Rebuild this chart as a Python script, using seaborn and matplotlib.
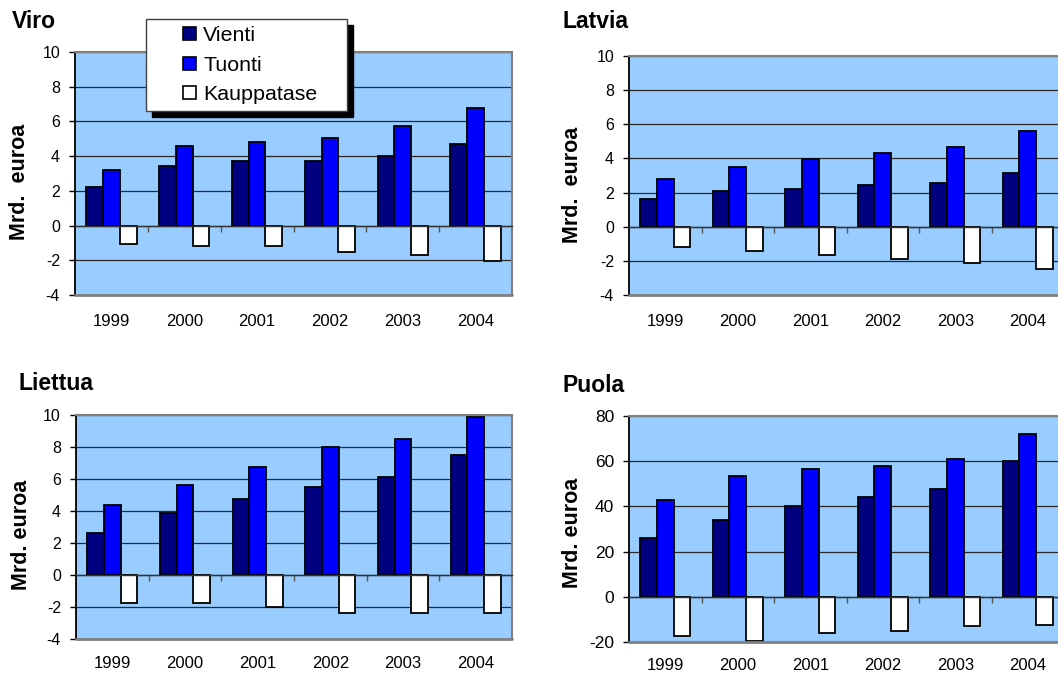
import numpy as np
import pandas as pd
import seaborn as sns
import matplotlib
matplotlib.use("Agg")
import matplotlib.pyplot as plt
from matplotlib.patches import Patch, Rectangle
from matplotlib.legend_handler import HandlerPatch
from matplotlib.lines import Line2D
import matplotlib.transforms as mtrans

sns.set_theme(style="white")
plt.rcParams["font.family"] = ["Liberation Sans", "DejaVu Sans"]
plt.rcParams["axes.unicode_minus"] = False
plt.rcParams["text.color"] = "black"
plt.rcParams["xtick.color"] = "black"
plt.rcParams["ytick.color"] = "black"
plt.rcParams["axes.labelcolor"] = "black"

years = ["1999", "2000", "2001", "2002", "2003", "2004"]
series = ["Vienti", "Tuonti", "Kauppatase"]

viro_vienti = [2.2, 3.45, 3.7, 3.7, 4.0, 4.7]
viro_tuonti = [3.2, 4.6, 4.8, 5.05, 5.75, 6.75]
viro_kauppatase = [-1.05, -1.15, -1.15, -1.5, -1.7, -2.05]

latvia_vienti = [1.65, 2.1, 2.2, 2.45, 2.55, 3.15]
latvia_tuonti = [2.8, 3.5, 3.95, 4.3, 4.65, 5.6]
latvia_kauppatase = [-1.2, -1.4, -1.65, -1.9, -2.1, -2.45]

liettua_vienti = [2.65, 3.9, 4.75, 5.5, 6.15, 7.5]
liettua_tuonti = [4.4, 5.65, 6.75, 8.0, 8.5, 9.9]
liettua_kauppatase = [-1.75, -1.75, -2.0, -2.35, -2.35, -2.35]

puola_vienti = [26.0, 34.0, 40.0, 44.0, 47.5, 60.0]
puola_tuonti = [43.0, 53.5, 56.5, 58.0, 61.0, 72.0]
puola_kauppatase = [-17.5, -19.5, -16.0, -15.0, -13.0, -12.5]

colors = {"Vienti": "#000080", "Tuonti": "#0000FF", "Kauppatase": "#FFFFFF"}
plot_bg = "#99CCFF"
frame_gray = "#808080"
grid_col = "#2a2a2a"

W, H = 1058, 674
fig = plt.figure(figsize=(W / 100, H / 100), dpi=100)


def px_rect(left, top, right, bottom):
    return [left / W, 1 - bottom / H, (right - left) / W, (bottom - top) / H]


def long_frame(vienti, tuonti, kauppatase):
    return pd.DataFrame({
        "Vuosi": years * 3,
        "Sarja": ["Vienti"] * 6 + ["Tuonti"] * 6 + ["Kauppatase"] * 6,
        "Arvo": list(vienti) + list(tuonti) + list(kauppatase),
    })


panels = [
    dict(title="Viro", data=(viro_vienti, viro_tuonti, viro_kauppatase),
         rect=(75, 52, 512, 295), ylim=(-4, 10), yticks=range(-4, 11, 2),
         title_xy=(12, 28), ylabel="Mrd.  euroa", ylab_xy=(20, 182),
         tick_fs=11.5, lab_fs=12, lab_off=27),
    dict(title="Latvia", data=(latvia_vienti, latvia_tuonti, latvia_kauppatase),
         rect=(629, 56, 1064, 295), ylim=(-4, 10), yticks=range(-4, 11, 2),
         title_xy=(563, 28), ylabel="Mrd.  euroa", ylab_xy=(572, 185),
         tick_fs=11.5, lab_fs=12, lab_off=27),
    dict(title="Liettua", data=(liettua_vienti, liettua_tuonti, liettua_kauppatase),
         rect=(76, 415, 512, 639), ylim=(-4, 10), yticks=range(-4, 11, 2),
         title_xy=(18, 390), ylabel="Mrd. euroa", ylab_xy=(22, 535),
         tick_fs=11.5, lab_fs=12, lab_off=25),
    dict(title="Puola", data=(puola_vienti, puola_tuonti, puola_kauppatase),
         rect=(629, 416, 1064, 642), ylim=(-20, 80), yticks=range(-20, 81, 20),
         title_xy=(563, 392), ylabel="Mrd. euroa", ylab_xy=(573, 533),
         tick_fs=12.5, lab_fs=12, lab_off=23),
]

for p in panels:
    ax = fig.add_axes(px_rect(*p["rect"]))
    df = long_frame(*p["data"])
    sns.barplot(data=df, x="Vuosi", y="Arvo", hue="Sarja", hue_order=series,
                order=years, palette=colors, edgecolor="black", linewidth=1.3,
                width=0.69, gap=0, legend=False, saturation=1, ax=ax)
    ax.set_facecolor(plot_bg)
    ax.set_axisbelow(True)
    ax.set_xlim(-0.5, len(years) - 0.5)
    ax.set_ylim(*p["ylim"])
    ax.set_yticks(list(p["yticks"]))
    ax.yaxis.grid(True, color=grid_col, linewidth=0.9)
    ax.tick_params(axis="y", direction="out", length=4.3, width=1, color="black",
                   labelcolor="black", labelsize=p["tick_fs"], pad=6.5, left=True)
    ax.set_xlabel("")
    ax.set_ylabel("")

    # category axis crossing at zero with boundary tick marks
    ax.spines["bottom"].set_position(("data", 0))
    ax.spines["bottom"].set_color("#333333")
    ax.spines["bottom"].set_linewidth(1.0)
    ax.set_xticks(np.arange(0.5, len(years) - 0.5, 1.0))
    ax.set_xticklabels([])
    ax.tick_params(axis="x", direction="out", length=4, width=1,
                   color="#555555", bottom=True)
    ax.spines["left"].set_color("black")
    ax.spines["left"].set_linewidth(1.3)
    for s in ("top", "right"):
        ax.spines[s].set_color(frame_gray)
        ax.spines[s].set_linewidth(1.5)
    ax.add_line(Line2D([0, 1], [0, 0], transform=ax.transAxes, color=frame_gray,
                       linewidth=2.0, clip_on=False, zorder=3))

    # year labels under the plot area
    trans = mtrans.blended_transform_factory(ax.transData, ax.transAxes)
    for i, yr in enumerate(years):
        ax.annotate(yr, xy=(i, 0), xycoords=trans, xytext=(0, -p["lab_off"] * 0.72),
                    textcoords="offset points", ha="center", va="center",
                    fontsize=p["lab_fs"], color="black")

    fig.text(p["title_xy"][0] / W, 1 - p["title_xy"][1] / H, p["title"],
             fontsize=16.5, fontweight="bold", ha="left", va="baseline",
             color="black")
    fig.text(p["ylab_xy"][0] / W, 1 - p["ylab_xy"][1] / H, p["ylabel"],
             fontsize=15.5, fontweight="bold", rotation=90, ha="center",
             va="center", color="black")


# legend with squares sitting to the right of a wide handle box
def square_patch(legend, orig_handle, xdescent, ydescent, width, height, fontsize):
    side = 13 * 72 / 100
    return Rectangle((width - side - xdescent, -ydescent + (height - side) / 2),
                     side, side)


handles = [Patch(facecolor=colors[s], edgecolor="black", linewidth=1.2) for s in series]
box = px_rect(146, 19, 347, 112)
leg = fig.legend(handles, series, loc="upper left",
                 bbox_to_anchor=(box[0], box[1], box[2], box[3]),
                 mode="expand", borderaxespad=0, fontsize=15.4, frameon=True,
                 fancybox=False, framealpha=1, edgecolor="#404040",
                 borderpad=0.35, labelspacing=0.47, handlelength=1.99,
                 handleheight=0.62, handletextpad=0.33, labelcolor="black",
                 shadow={"ox": 4, "oy": -4, "color": "black", "alpha": 1},
                 handler_map={Patch: HandlerPatch(patch_func=square_patch)})
leg.get_frame().set_linewidth(1.0)
leg.set_zorder(10)

fig.savefig("out.png", dpi=100)
